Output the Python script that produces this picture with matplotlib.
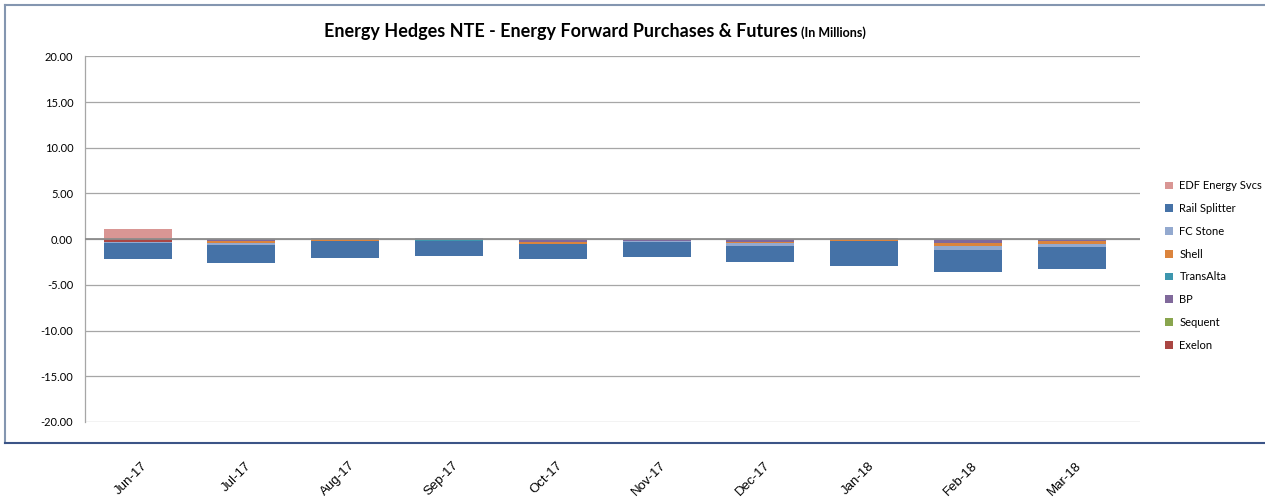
import matplotlib
matplotlib.use('Agg')
import matplotlib.pyplot as plt
import matplotlib.transforms as mtransforms
from matplotlib.lines import Line2D
import numpy as np

months = ['Jun-17', 'Jul-17', 'Aug-17', 'Sep-17', 'Oct-17',
          'Nov-17', 'Dec-17', 'Jan-18', 'Feb-18', 'Mar-18']

# values in millions
exelon    = [-0.28, 0, 0, 0, 0, 0, 0, 0, 0, 0]
sequent   = [0, 0, 0, 0, 0, 0, 0, 0, 0, 0]
bp        = [0, -0.25, 0, 0, -0.26, -0.15, -0.30, 0, -0.47, -0.22]
transalta = [0, 0, 0, -0.15, 0, 0, 0, 0, 0, 0]
shell     = [-0.07, -0.18, -0.18, 0, -0.23, 0, -0.11, -0.19, -0.26, -0.29]
fc_stone  = [-0.08, -0.22, 0.12, 0.12, 0, -0.11, -0.34, 0.12, -0.44, -0.40]
rail      = [-1.78, -1.97, -1.85, -1.68, -1.70, -1.73, -1.73, -2.75, -2.40, -2.33]
edf       = [1.12, 0, 0, 0, 0, 0, 0, 0, 0, 0]

# stacking order (first = nearest the axis)
series = [
    ('Exelon', exelon, '#aa4643'),
    ('Sequent', sequent, '#89a54e'),
    ('BP', bp, '#80699b'),
    ('TransAlta', transalta, '#3d96ae'),
    ('Shell', shell, '#db843d'),
    ('FC Stone', fc_stone, '#93a9cf'),
    ('Rail Splitter', rail, '#4572a7'),
    ('EDF Energy Svcs', edf, '#d99694'),
]

fig = plt.figure(figsize=(12.65, 5.01), dpi=100, facecolor='white')
ax = fig.add_axes([85 / 1265, 79 / 501, (1140 - 85) / 1265, (422 - 56.3) / 501])

x = np.arange(len(months))
pos_bottom = np.zeros(len(months))
neg_bottom = np.zeros(len(months))
handles = {}
for name, vals, col in series:
    v = np.array(vals, dtype=float)
    bottom = np.where(v >= 0, pos_bottom, neg_bottom)
    b = ax.bar(x, v, 0.655, bottom=bottom, color=col, zorder=2, linewidth=0)
    handles[name] = b
    pos_bottom += np.where(v > 0, v, 0)
    neg_bottom += np.where(v < 0, v, 0)

ax.set_xlim(-0.506, 9.658)
ax.set_ylim(-20, 20)
ax.set_yticks(np.arange(-20, 21, 5))
ax.set_yticklabels(['%.2f' % t for t in np.arange(-20, 21, 5)],
                   fontsize=8, family=['Lato', 'DejaVu Sans'])
ax.yaxis.grid(True, color='#a6a6a6', linewidth=0.9, zorder=0)
ax.set_axisbelow(True)
ax.axhline(0, color='#8c8c8c', linewidth=1.3, zorder=3)
ax.tick_params(axis='y', length=0, pad=8.5)
ax.tick_params(axis='x', length=0, pad=30)
for s in ['top', 'right', 'bottom']:
    ax.spines[s].set_visible(False)
ax.spines['left'].set_color('#a6a6a6')
ax.spines['left'].set_linewidth(0.9)

ax.set_xticks(x)
ax.set_xticklabels(months, rotation=45, ha='right', va='center',
                   rotation_mode='anchor', fontsize=9.5,
                   family=['Liberation Sans', 'DejaVu Sans'])
offset = mtransforms.ScaledTranslation(8 / 100, 0, fig.dpi_scale_trans)
for lab in ax.get_xticklabels():
    lab.set_transform(lab.get_transform() + offset)

# title in two sizes
fig.text(0.6305, 0.926, 'Energy Hedges NTE - Energy Forward Purchases & Futures',
         ha='right', va='baseline', fontsize=13, fontweight='bold',
         family=['Lato', 'DejaVu Sans'])
fig.text(0.6335, 0.926, '(In Millions)', ha='left', va='baseline',
         fontsize=9, fontweight='bold', family=['Lato', 'DejaVu Sans'])

legend_order = ['EDF Energy Svcs', 'Rail Splitter', 'FC Stone', 'Shell',
                'TransAlta', 'BP', 'Sequent', 'Exelon']
fig.legend([handles[n] for n in legend_order], legend_order,
           loc='center left', bbox_to_anchor=(1165 / 1265, 0.470),
           frameon=False, prop={'family': ['Lato', 'DejaVu Sans'], 'size': 8},
           handlelength=0.7, handleheight=0.7, handletextpad=0.6,
           labelspacing=1.06, borderpad=0, borderaxespad=0)

# chart area border (top/left lighter, bottom darker)
fig.add_artist(Line2D([5 / 1265, 1], [1 - 4.5 / 501] * 2, transform=fig.transFigure,
                      color='#8496b0', linewidth=1.5))
fig.add_artist(Line2D([5 / 1265] * 2, [1 - 443 / 501, 1 - 4.5 / 501],
                      transform=fig.transFigure, color='#8496b0', linewidth=1.5))
fig.add_artist(Line2D([5 / 1265, 1], [1 - 443 / 501] * 2, transform=fig.transFigure,
                      color='#3b5487', linewidth=1.5))

fig.savefig('out.png', dpi=100, facecolor='white')
